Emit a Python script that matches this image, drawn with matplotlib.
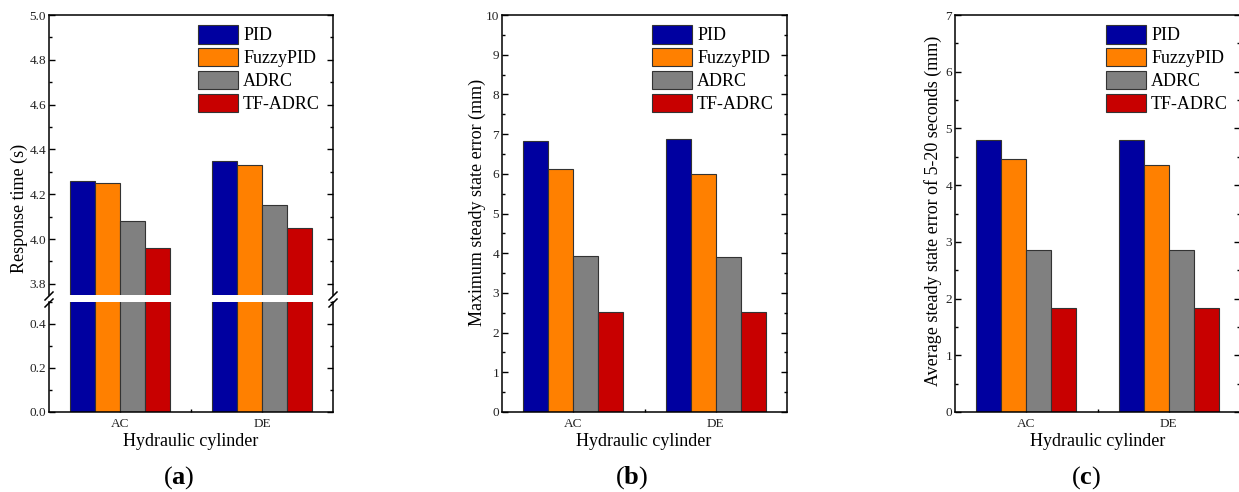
import numpy as np
import matplotlib
matplotlib.use("Agg")
import matplotlib.pyplot as plt
from matplotlib.lines import Line2D
from matplotlib.ticker import MultipleLocator, FixedLocator, FormatStrFormatter

plt.rcParams['font.family'] = ['Liberation Serif', 'DejaVu Serif']
plt.rcParams['mathtext.fontset'] = 'custom'
plt.rcParams['mathtext.rm'] = 'Liberation Serif'
plt.rcParams['mathtext.bf'] = 'Liberation Serif:bold'

# ---------------- data ----------------
categories = ['AC', 'DE']
series = ['PID', 'FuzzyPID', 'ADRC', 'TF-ADRC']
colors = ['#0000A0', '#FF8000', '#808080', '#C80000']

response_pid = [4.26, 4.35]
response_fuzzy = [4.25, 4.33]
response_adrc = [4.08, 4.15]
response_tfadrc = [3.96, 4.05]

maxerr_pid = [6.83, 6.87]
maxerr_fuzzy = [6.12, 5.99]
maxerr_adrc = [3.92, 3.90]
maxerr_tfadrc = [2.51, 2.51]

avgerr_pid = [4.79, 4.80]
avgerr_fuzzy = [4.46, 4.35]
avgerr_adrc = [2.85, 2.85]
avgerr_tfadrc = [1.83, 1.83]

x_label = 'Hydraulic cylinder'
y_labels = ['Response time (s)', 'Maximum steady state error (mm)',
            'Average steady state error of 5-20 seconds (mm)']
panel_letters = ['a', 'b', 'c']

# ---------------- layout ----------------
W, H = 1239, 492
fig = plt.figure(figsize=(W / 100, H / 100), dpi=100)


def rect(l, r, t, b):
    return [l / W, 1 - b / H, (r - l) / W, (b - t) / H]


x = np.arange(1, len(categories) + 1)
bw = 0.176
TICK_FS = 9.5
LAB_FS = 13


def draw_bars(ax, data):
    for i, (vals, c, name) in enumerate(zip(data, colors, series)):
        ax.bar(x + (i - 1.5) * bw, vals, width=bw, color=c,
               edgecolor='#333333', linewidth=0.8, label=name)


def style(ax, major, minor, xlabels=True):
    ax.set_axisbelow(True)
    ax.set_xlim(0.5, 2.5)
    ax.xaxis.set_major_locator(FixedLocator(x))
    ax.xaxis.set_minor_locator(FixedLocator([1.5]))
    if xlabels:
        ax.set_xticklabels(categories)
    ax.yaxis.set_major_locator(MultipleLocator(major))
    ax.yaxis.set_minor_locator(MultipleLocator(minor))
    ax.tick_params(axis='both', which='both', direction='in', labelsize=TICK_FS,
                   width=1.0, colors='black', labelcolor='#222222')
    ax.tick_params(axis='y', which='both', left=True, right=True)
    ax.tick_params(axis='x', which='both', top=False)
    ax.tick_params(which='major', length=4)
    ax.tick_params(which='minor', length=2)
    ax.tick_params(axis='x', pad=4)
    ax.tick_params(axis='y', pad=2)
    for s in ax.spines.values():
        s.set_linewidth(1.1)


def add_legend(ax, px, py):
    ax.legend(loc='upper left', bbox_to_anchor=(px / W, 1 - py / H),
              bbox_transform=fig.transFigure, frameon=False, fontsize=LAB_FS,
              borderpad=0, borderaxespad=0, handlelength=2.2,
              handleheight=1.2, labelspacing=0.2, handletextpad=0.3)


# ----- panel (a): broken axis -----
ax_top = fig.add_axes(rect(49, 333, 15, 295))
ax_bot = fig.add_axes(rect(49, 333, 302, 412))
resp = [response_pid, response_fuzzy, response_adrc, response_tfadrc]
draw_bars(ax_top, resp)
draw_bars(ax_bot, resp)
ax_top.set_ylim(3.75, 5.0)
ax_bot.set_ylim(0, 0.5)
style(ax_top, 0.2, 0.1, xlabels=False)
style(ax_bot, 0.2, 0.1)
ax_top.yaxis.set_major_formatter(FormatStrFormatter('%.1f'))
ax_bot.yaxis.set_major_formatter(FormatStrFormatter('%.1f'))
ax_top.spines['bottom'].set_visible(False)
ax_top.tick_params(axis='x', which='both', bottom=False, labelbottom=False)
ax_bot.spines['top'].set_visible(False)
add_legend(ax_top, 198, 25)

# break marks
for xp in (49, 333):
    for yp in (297, 304):
        fig.add_artist(Line2D([(xp - 4) / W, (xp + 4) / W],
                              [1 - (yp + 3) / H, 1 - (yp - 5) / H],
                              transform=fig.transFigure, color='black', lw=1.1))

# ----- panel (b) -----
ax_b = fig.add_axes(rect(502, 787, 15, 412))
draw_bars(ax_b, [maxerr_pid, maxerr_fuzzy, maxerr_adrc, maxerr_tfadrc])
ax_b.set_ylim(0, 10)
style(ax_b, 1, 0.5)
add_legend(ax_b, 652, 25)

# ----- panel (c) -----
ax_c = fig.add_axes(rect(955, 1240, 15, 412))
draw_bars(ax_c, [avgerr_pid, avgerr_fuzzy, avgerr_adrc, avgerr_tfadrc])
ax_c.set_ylim(0, 7)
style(ax_c, 1, 0.5)
add_legend(ax_c, 1106, 25)

# ----- labels -----
ylab_pos = [(19, 208), (477, 202), (933, 211)]
xlab_x = [191, 644, 1098]
for (yx, yy), xx, yl, letter in zip(ylab_pos, xlab_x, y_labels, panel_letters):
    fig.text(yx / W, 1 - yy / H, yl, rotation=90, ha='center', va='center',
             fontsize=LAB_FS)
    fig.text(xx / W, 1 - 442 / H, x_label, ha='center', va='center',
             fontsize=LAB_FS)
    fig.text((xx - 12) / W, 1 - 478 / H, '(' + r'$\mathbf{' + letter + '}$' + ')',
             ha='center', va='center', fontsize=19)

fig.savefig('out.png', dpi=100)
